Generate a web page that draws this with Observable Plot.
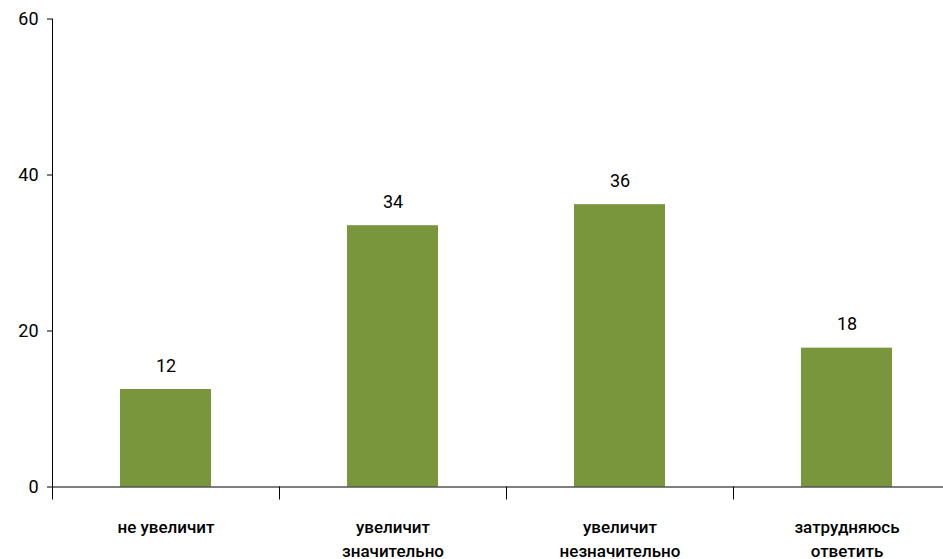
<!DOCTYPE html>
<html>
<head>
<meta charset="utf-8">
<script src="https://cdn.jsdelivr.net/npm/d3@7"></script>
<script src="https://cdn.jsdelivr.net/npm/@observablehq/plot@0.6"></script>
<style>
  html, body { margin: 0; padding: 0; background: white; }
  #chart { width: 943px; height: 559px; overflow: hidden; }
</style>
</head>
<body>
<div id="chart"></div>
<script>
const categories = ["не увеличит", "увеличит значительно", "увеличит незначительно", "затрудняюсь ответить"];
const tickLabels = ["не увеличит", "увеличит\nзначительно", "увеличит\nнезначительно", "затрудняюсь\nответить"];
const values = [12.5, 33.5, 36.2, 17.8];
const valueLabels = ["12", "34", "36", "18"];
const yTicks = [0, 20, 40, 60];

const data = categories.map((c, i) => ({category: c, value: values[i], label: valueLabels[i], tick: tickLabels[i]}));

const xRange = [52, 960];
const step = (xRange[1] - xRange[0]) / categories.length;

const chart = Plot.plot({
  width: 943,
  height: 559,
  marginTop: 18.5,
  marginBottom: 72.5,
  marginLeft: 52,
  marginRight: 0,
  style: {fontFamily: "Roboto, sans-serif", color: "black", background: "white"},
  x: {domain: categories, range: xRange, paddingInner: 0.6, paddingOuter: 0.3, axis: null},
  y: {domain: [0, 60], axis: null},
  marks: [
    Plot.barY(data, {x: "category", y: "value", fill: "#7a963d"}),
    Plot.axisY({ticks: yTicks, tickSize: 5, tickPadding: 9, fontSize: 18, stroke: "black", color: "black", label: null}),
    Plot.ruleX([categories[0]], {dx: -step / 2, y1: 0, y2: 60, stroke: "black"}),
    Plot.ruleY([0], {stroke: "black"}),
    Plot.axisX({ticks: categories, tickSize: 13, tickFormat: () => "", dx: -step / 2, stroke: "black", label: null}),
    Plot.text(data, {x: "category", frameAnchor: "bottom", text: "tick", lineAnchor: "top", dy: 29, lineHeight: 1.42, fontSize: 17, fontWeight: 500, fill: "black"}),
    Plot.text(data, {x: "category", y: "value", text: "label", lineAnchor: "bottom", dy: -18, fontSize: 18, fill: "black"})
  ]
});
document.getElementById("chart").appendChild(chart);
</script>
</body>
</html>
